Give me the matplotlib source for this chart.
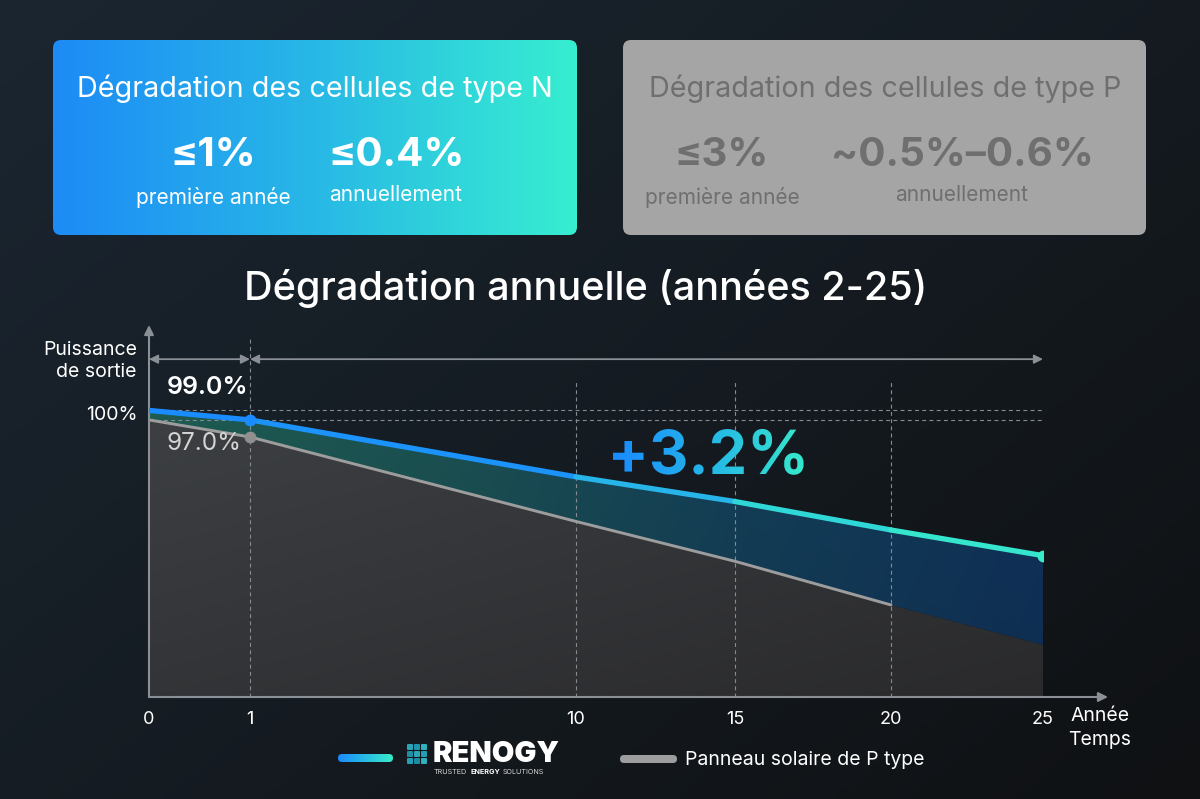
import numpy as np
import matplotlib
matplotlib.use('Agg')
import matplotlib.pyplot as plt
from matplotlib.patches import FancyBboxPatch, PathPatch
from matplotlib.collections import LineCollection
from matplotlib.textpath import TextPath
from matplotlib.font_manager import FontProperties
from matplotlib.colors import LinearSegmentedColormap, to_rgb
from matplotlib.transforms import Affine2D

plt.rcParams['font.family'] = ['Inter', 'DejaVu Sans']

# ---------------- data ----------------
YEARS = [0, 1, 10, 15, 20, 25]
N_TYPE = [100.0, 99.0, 93.0, 90.4, 87.4, 84.7]      # N-type panel output (%)
P_TYPE = [99.0, 97.2, 88.3, 84.1, 79.5, 75.3]       # P-type panel output (%)
P_LINE_END = 20                                      # grey line drawn up to this year
TICK_YEARS = [0, 1, 10, 15, 20, 25]
TICK_LABELS = ['0', '1', '10', '15', '20', '25']
VGRID_YEARS = [1, 10, 15, 20]
HGRID_VALUES = [100, 99]
LABEL_N1 = '99.0%'
LABEL_P1 = '97.0%'
GAIN_LABEL = '+3.2%'
TITLE = 'Dégradation annuelle (années 2-25)'
YLABEL = 'Puissance\nde sortie'
XLABEL_1 = 'Année'
XLABEL_2 = 'Temps'
Y_REF_LABEL = '100%'
N_BOX = ['Dégradation des cellules de type N', '≤1%', 'première année', '≤0.4%', 'annuellement']
P_BOX = ['Dégradation des cellules de type P', '≤3%', 'première année', '~0.5%–0.6%', 'annuellement']
LEGEND_P = 'Panneau solaire de P type'

# visual (non-uniform) spacing of the time axis, px from origin
AXIS_SPACING = [0, 101, 427, 586, 742, 894]

W, H = 1200, 799
fig = plt.figure(figsize=(W / 100, H / 100), dpi=100)

# ---------- background ----------
bg = fig.add_axes([0, 0, 1, 1], zorder=0)
bg.set_axis_off()
gx, gy = np.meshgrid(np.linspace(0, 1, 240), np.linspace(0, 1, 160))
t = np.clip(0.55 * gx + 0.45 * gy, 0, 1)[..., None]
c0 = np.array(to_rgb('#1b2631'))
c1 = np.array(to_rgb('#0f1113'))
bg.imshow(c0 * (1 - t) + c1 * t, extent=[0, W, H, 0], aspect='auto', origin='upper')
bg.set_xlim(0, W)
bg.set_ylim(H, 0)

# ---------- chart ----------
def fwd(x):
    return np.interp(x, TICK_YEARS, AXIS_SPACING)

def inv(p):
    return np.interp(p, AXIS_SPACING, TICK_YEARS)

Y0, Y1 = 69.8, 109.0
ax = fig.add_axes([149 / W, 102 / H, 894 / W, 372 / H], zorder=2)
ax.patch.set_alpha(0)
ax.set_xscale('function', functions=(fwd, inv))
for s in ax.spines.values():
    s.set_visible(False)

# fills with gradients
grey_poly = ax.fill_between(YEARS, Y0, P_TYPE, facecolor='none', edgecolor='none')
gap_poly = ax.fill_between(YEARS, P_TYPE, N_TYPE, facecolor='none', edgecolor='none')

fx, fy = np.meshgrid(np.linspace(0, 1, 300), np.linspace(0, 1, 200))
tg = np.clip(0.6 * fy + 0.4 * (1 - fx), 0, 1)[..., None]
cl = np.array(to_rgb('#404347'))
cd = np.array(to_rgb('#2a2a2c'))
img_grey = cd * (1 - tg) + cl * tg
im1 = ax.imshow(img_grey, extent=[0, 1, 0, 1], transform=ax.transAxes, aspect='auto',
                origin='lower', zorder=1)
im1.set_clip_path(grey_poly.get_paths()[0], ax.transData)

gap_cmap = LinearSegmentedColormap.from_list('gap', ['#1f5c52', '#1b5052', '#143f58', '#10325a'])
gcol = gap_cmap(fx)[..., :3]
gcol = gcol * (0.9 + 0.12 * fy[..., None])
im2 = ax.imshow(np.clip(gcol, 0, 1), extent=[0, 1, 0, 1], transform=ax.transAxes, aspect='auto',
                origin='lower', zorder=1)
im2.set_clip_path(gap_poly.get_paths()[0], ax.transData)

# dashed guides
dash_kw = dict(colors='#858b91', linewidth=0.8, linestyles=(0, (3.5, 3)), zorder=2)
ax.hlines(HGRID_VALUES, YEARS[0], YEARS[-1], **dash_kw)
ax.vlines(VGRID_YEARS[:1], Y0, 107.6, **dash_kw)
ax.vlines(VGRID_YEARS[1:], Y0, 103.2, **dash_kw)

# grey P-type line
n_grey = YEARS.index(P_LINE_END) + 1
ax.plot(YEARS[:n_grey], P_TYPE[:n_grey], color='#9d9d9d', lw=2.1, zorder=3,
        solid_capstyle='round')

# gradient N-type line
line_cmap = LinearSegmentedColormap.from_list('ln', ['#1a8bff', '#1a8ffd', '#22a6f0', '#30d8d6', '#37ecc8'])
pts = np.column_stack([YEARS, N_TYPE])
segs = np.stack([pts[:-1], pts[1:]], axis=1)
mids = [(fwd(a) + fwd(b)) / 2 / AXIS_SPACING[-1] for a, b in zip(YEARS[:-1], YEARS[1:])]
lc = LineCollection(segs, colors=[line_cmap(m) for m in mids], linewidths=3.8,
                    capstyle='round', joinstyle='round', zorder=4)
ax.add_collection(lc)

# markers
ax.plot(YEARS[1], P_TYPE[1], 'o', color='#8f8f8f', ms=7.5, zorder=5)
ax.plot(YEARS[1], N_TYPE[1], 'o', color='#1a8bff', ms=7.5, zorder=5)
ax.plot(YEARS[-1], N_TYPE[-1], 'o', color='#37ecc8', ms=7.5, zorder=5)

# axes with arrows
axis_col = '#8a9096'
ax.annotate('', xy=(1.0727, 0), xycoords='axes fraction', xytext=(0, 0),
            arrowprops=dict(arrowstyle='-|>', color=axis_col, lw=1.5, mutation_scale=14,
                            shrinkA=0, shrinkB=0), annotation_clip=False)
ax.annotate('', xy=(0, 1.0), xycoords='axes fraction', xytext=(0, 0),
            arrowprops=dict(arrowstyle='-|>', color=axis_col, lw=1.5, mutation_scale=14,
                            shrinkA=0, shrinkB=0), annotation_clip=False)

# span arrows
ya = 105.4
for a, b in [(YEARS[0], YEARS[1]), (YEARS[1], YEARS[-1])]:
    ax.annotate('', xy=(b, ya), xytext=(a, ya),
                arrowprops=dict(arrowstyle='<|-|>', color=axis_col, lw=1.3, mutation_scale=13,
                                shrinkA=0, shrinkB=0), annotation_clip=False)

ax.set_xticks(TICK_YEARS, TICK_LABELS)
ax.set_yticks([])
ax.tick_params(axis='x', length=0, pad=10, labelcolor='white', labelsize=13)
ax.set_xlim(YEARS[0], YEARS[-1])
ax.set_ylim(Y0, Y1)

ax.text(-0.013, sum(HGRID_VALUES) / 2, Y_REF_LABEL, transform=ax.get_yaxis_transform(),
        ha='right', va='center', color='white', fontsize=14)

# ---------- overlay (pixel coordinates) ----------
ov = fig.add_axes([0, 0, 1, 1], zorder=3)
ov.set_axis_off()
ov.patch.set_alpha(0)

ov.text(137, 361, YLABEL, ha='right', va='center', color='white', fontsize=14, linespacing=1.35)
ov.text(1100, 716, XLABEL_1, ha='center', va='center', color='white', fontsize=14)
ov.text(1100, 740, XLABEL_2, ha='center', va='center', color='white', fontsize=14)
ov.text(167, 388, LABEL_N1, ha='left', va='center', color='white', fontsize=18, fontweight='semibold')
ov.text(167, 444, LABEL_P1, ha='left', va='center', color='#d4d4d4', fontsize=17.5)

ov.text(586, 288, TITLE, ha='center', va='center', color='white', fontsize=28.5, fontweight='medium')


def gradient_fill_patch(patch, x0, x1, y0, y1, colors, z):
    ov.add_patch(patch)
    cmap = LinearSegmentedColormap.from_list('g', colors)
    im = ov.imshow(np.linspace(0, 1, 256).reshape(1, -1), cmap=cmap,
                   extent=[x0, x1, y1, y0], aspect='auto', zorder=z)
    im.set_clip_path(patch)
    return im


def gradient_text(s, x_left, baseline, size, colors, weight='bold'):
    fp = FontProperties(family='Inter', weight=weight)
    tp = TextPath((0, 0), s, size=size, prop=fp)
    bb = tp.get_extents()
    tr = Affine2D().translate(-bb.x0, 0).scale(1, -1).translate(x_left, baseline) + ov.transData
    patch = PathPatch(tp, transform=tr, facecolor='none', edgecolor='none')
    gradient_fill_patch(patch, x_left, x_left + bb.width, baseline - bb.y1 - 2, baseline - bb.y0 + 2,
                        colors, 4)


gradient_text(GAIN_LABEL, 613, 474, 61, ['#1a8bff', '#25b6e8', '#36e8cc'])

# top boxes
boxN = FancyBboxPatch((53, 40), 524, 195, boxstyle='round,pad=0,rounding_size=8',
                      facecolor='none', edgecolor='none')
gradient_fill_patch(boxN, 53, 577, 40, 235, ['#1d8bf6', '#28b8e6', '#37eed0'], 1)
boxP = FancyBboxPatch((623, 40), 523, 195, boxstyle='round,pad=0,rounding_size=8',
                      facecolor='#a5a5a5', edgecolor='none', zorder=1)
ov.add_patch(boxP)

for box, cx_title, cx1, cx2, col in [(N_BOX, 315, 213, 396, 'white'), (P_BOX, 885, 722, 962, '#6f6f6f')]:
    ov.text(cx_title, 89, box[0], ha='center', va='center', color=col, fontsize=20.7, zorder=5)
    ov.text(cx1, 156, box[1], ha='center', va='center', color=col, fontsize=29, fontweight='bold', zorder=5)
    ov.text(cx1, 197, box[2], ha='center', va='center', color=col, fontsize=15, zorder=5)
    ov.text(cx2, 155, box[3], ha='center', va='center', color=col, fontsize=29, fontweight='bold', zorder=5)
    ov.text(cx2, 195, box[4], ha='center', va='center', color=col, fontsize=15, zorder=5)

# legend
barN = FancyBboxPatch((338, 754), 55, 8, boxstyle='round,pad=0,rounding_size=4',
                      facecolor='none', edgecolor='none')
gradient_fill_patch(barN, 338, 393, 754, 762, ['#1a8bff', '#37ecc8'], 2)
ov.add_patch(FancyBboxPatch((620, 755), 57, 8, boxstyle='round,pad=0,rounding_size=4',
                            facecolor='#9d9d9d', edgecolor='none', zorder=2))
ov.text(685, 760, LEGEND_P, ha='left', va='center', color='white', fontsize=14)

# logo
sq_cols = [['#2aa3b8', '#1e95b0', '#2bb3bf'], ['#1f8fa8', '#2aa6b8', '#22a0b3'],
           ['#23a0b5', '#1b8aa5', '#2fb0be']]
for r in range(3):
    for c in range(3):
        ov.add_patch(FancyBboxPatch((407 + c * 7, 744 + r * 7), 6, 6,
                                    boxstyle='round,pad=0,rounding_size=1',
                                    facecolor=sq_cols[r][c], edgecolor='none', zorder=2))
ov.text(433, 754, 'RENOGY', ha='left', va='center', color='white', fontsize=21,
        fontweight='black', zorder=3)
t1 = ov.text(434, 772, 'TRUSTED', ha='left', va='center', color='#d8d8d8', fontsize=5.2, zorder=3)
t2 = ov.annotate('ENERGY', xy=(1, 0.5), xycoords=t1, xytext=(2, 0), textcoords='offset points',
                 ha='left', va='center', color='white', fontsize=5.2, fontweight='bold', zorder=3)
ov.annotate('SOLUTIONS', xy=(1, 0.5), xycoords=t2, xytext=(2, 0), textcoords='offset points',
            ha='left', va='center', color='#d8d8d8', fontsize=5.2, zorder=3)

ov.set_xlim(0, W)
ov.set_ylim(H, 0)

fig.savefig('out.png', dpi=100)
